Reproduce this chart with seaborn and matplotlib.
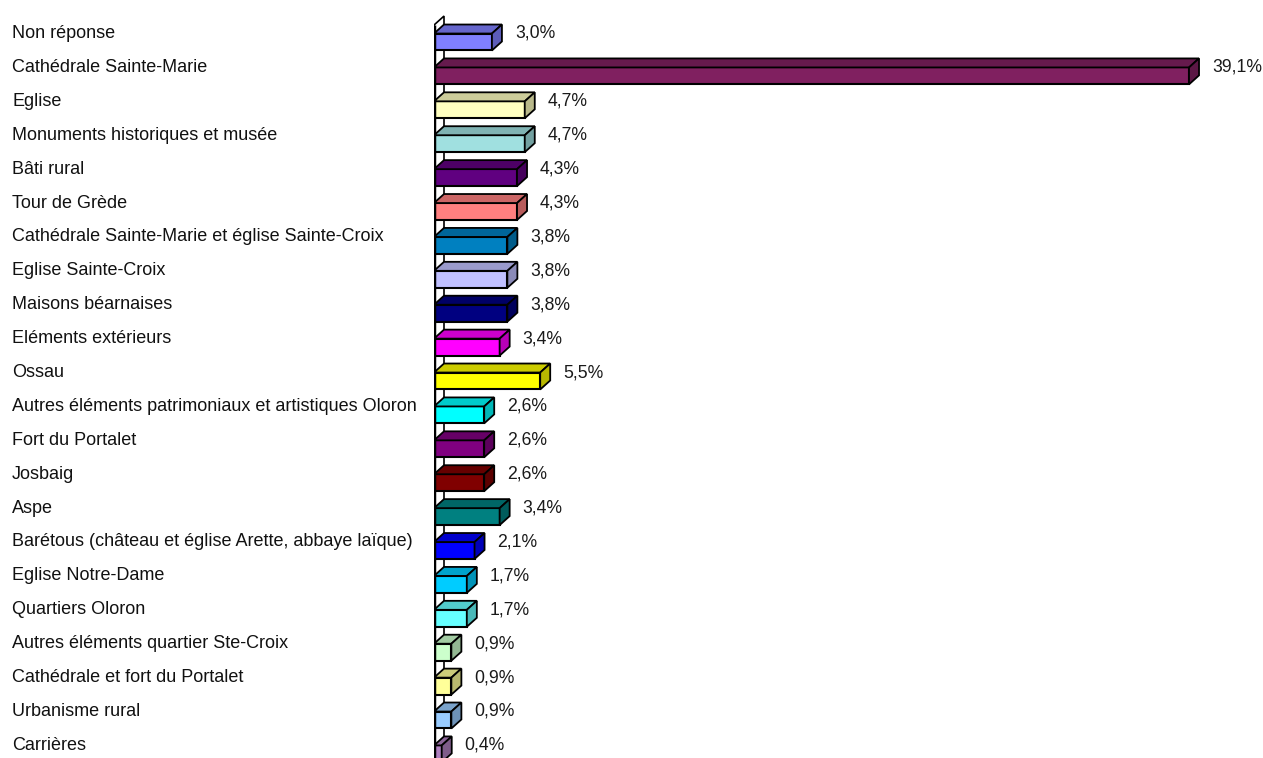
import numpy as np
import matplotlib
matplotlib.use("Agg")
import matplotlib.pyplot as plt
import matplotlib.transforms as mtransforms
from matplotlib.patches import Polygon
from matplotlib.colors import to_rgb
import seaborn as sns

# data
categories = [
    "Non réponse",
    "Cathédrale Sainte-Marie",
    "Eglise",
    "Monuments historiques et musée",
    "Bâti rural",
    "Tour de Grède",
    "Cathédrale Sainte-Marie et église Sainte-Croix",
    "Eglise Sainte-Croix",
    "Maisons béarnaises",
    "Eléments extérieurs",
    "Ossau",
    "Autres éléments patrimoniaux et artistiques Oloron",
    "Fort du Portalet",
    "Josbaig",
    "Aspe",
    "Barétous (château et église Arette, abbaye laïque)",
    "Eglise Notre-Dame",
    "Quartiers Oloron",
    "Autres éléments quartier Ste-Croix",
    "Cathédrale et fort du Portalet",
    "Urbanisme rural",
    "Carrières",
]
values = [3.0, 39.1, 4.7, 4.7, 4.3, 4.3, 3.8, 3.8, 3.8, 3.4, 5.5,
          2.6, 2.6, 2.6, 3.4, 2.1, 1.7, 1.7, 0.9, 0.9, 0.9, 0.4]
value_labels = ["3,0%", "39,1%", "4,7%", "4,7%", "4,3%", "4,3%", "3,8%", "3,8%",
                "3,8%", "3,4%", "5,5%", "2,6%", "2,6%", "2,6%", "3,4%", "2,1%",
                "1,7%", "1,7%", "0,9%", "0,9%", "0,9%", "0,4%"]
colors = ["#8080FF", "#802060", "#FFFFC0", "#A0E0E0", "#600080", "#FF8080",
          "#0080C0", "#C0C0FF", "#000080", "#FF00FF", "#FFFF00", "#00FFFF",
          "#800080", "#800000", "#008080", "#0000FF", "#00CCFF", "#66FFFF",
          "#CCFFCC", "#FFFF99", "#99CCFF", "#B080C0"]

W, H, DPI = 1263, 758, 100
px_x = 19.31   # pixels per percent
px_y = 33.9    # pixels per category
x0_px = 434
y0_px = 42     # front centre of first bar

sns.set_style("white")
plt.rcParams["font.family"] = ["Liberation Sans", "DejaVu Sans"]

fig = plt.figure(figsize=(W / DPI, H / DPI), dpi=DPI)
xmax = (W - x0_px) / px_x
ax = fig.add_axes([x0_px / W, 0, 1 - x0_px / W, 1])

pal = dict(zip(categories, colors))
sns.barplot(x=values, y=categories, hue=categories, palette=pal, orient="h",
            width=0.5, saturation=1, edgecolor="black", linewidth=1.5,
            legend=False, ax=ax, zorder=3)

ax.set_xlim(0, xmax)
ax.set_ylim((H - y0_px) / px_y, -y0_px / px_y)
ax.set_xticks([])
ax.set_yticks([])
ax.set_xlabel("")
ax.set_ylabel("")
for s in ax.spines.values():
    s.set_visible(False)

dx = 10 / px_x
dy = 9 / px_y


def shade(c, f):
    r, g, b = to_rgb(c)
    return (r * f, g * f, b * f)


# back wall
ytop = -0.5
ybot = len(categories) + 1
wall = Polygon([(0, ybot), (0, ytop), (dx, ytop - dy), (dx, ybot - dy)],
               closed=True, facecolor="white", edgecolor="black", lw=1.2, zorder=1)
ax.add_patch(wall)

# 3D faces
for p in list(ax.patches):
    if p is wall:
        continue
    v = p.get_width()
    y1 = p.get_y()
    y2 = y1 + p.get_height()
    yt, yb = min(y1, y2), max(y1, y2)
    fc = p.get_facecolor()
    top = Polygon([(0, yt), (v, yt), (v + dx, yt - dy), (dx, yt - dy)], closed=True,
                  facecolor=shade(fc, 0.8), edgecolor="black", lw=1.3, zorder=3)
    side = Polygon([(v, yt), (v, yb), (v + dx, yb - dy), (v + dx, yt - dy)], closed=True,
                   facecolor=shade(fc, 0.72), edgecolor="black", lw=1.3, zorder=3)
    ax.add_patch(top)
    ax.add_patch(side)

ax.plot([0, 0], [ytop, ybot], color="black", lw=2.5, zorder=4, solid_capstyle="butt")

# labels
up = mtransforms.ScaledTranslation(0, 8.5 / DPI, fig.dpi_scale_trans)
lab_tr = mtransforms.blended_transform_factory(fig.transFigure, ax.transData) + up
for i, (cat, v, lab) in enumerate(zip(categories, values, value_labels)):
    ax.text(12 / W, i, cat, transform=lab_tr, ha="left", va="center",
            fontsize=12.95, color="#111111")
    ax.text(v + dx + 13 / px_x, i, lab, transform=ax.transData + up, ha="left",
            va="center", fontsize=12.7, color="#1a1a1a", clip_on=False)

fig.savefig("out.png", dpi=DPI, facecolor="white")
